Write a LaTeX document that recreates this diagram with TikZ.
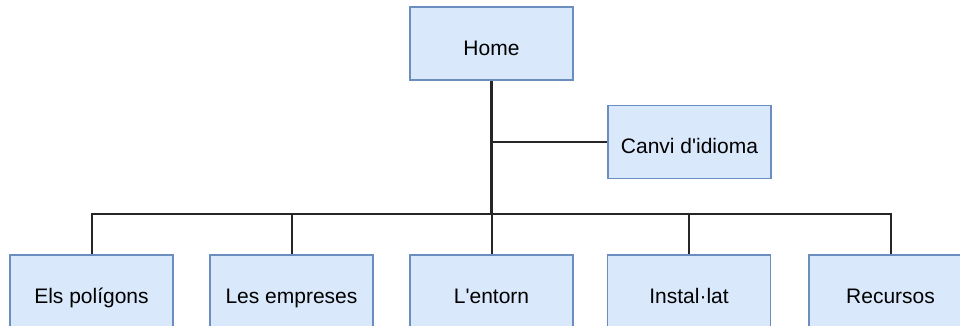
\documentclass[tikz,border=0pt]{standalone}
\usepackage{fontspec}
\setmainfont{Liberation Sans}
\definecolor{boxfill}{HTML}{DAE8FC}
\definecolor{boxline}{HTML}{6C8EBF}
\tikzset{
  pagebox/.style={draw=boxline, fill=boxfill, line width=1.5pt, minimum width=163pt,
    minimum height=73pt, inner sep=0pt, text height=23pt, text depth=0pt,
    font=\fontsize{21}{25}\selectfont},
  link/.style={line width=2pt, black!85}
}
\begin{document}
\begin{tikzpicture}[x=1pt, y=-1pt]
    \useasboundingbox (0, 0) rectangle (960, 325);
    \node[pagebox] (home) at (491.5, 43.5) {Home};
    \node[pagebox] (idioma) at (689.5, 142) {Canvi d\textquotesingle idioma};
    \node[pagebox] (poligons) at (91.5, 291.5) {Els polígons};
    \node[pagebox] (empreses) at (291.5, 291.5) {Les empreses};
    \node[pagebox] (entorn) at (491.5, 291.5) {L\textquotesingle entorn};
    \node[pagebox] (installat) at (689, 291.5) {Instal·lat};
    \node[pagebox] (recursos) at (890.5, 291.5) {Recursos};
    \coordinate (bus) at (491.5, 214);
    \draw[link] (home.south) |- (idioma.west);
    \draw[link, line width=2.4pt] (home.south) -- (bus);
    \draw[link] (bus) -| (poligons.north);
    \draw[link] (bus) -| (empreses.north);
    \draw[link] (bus) -- (entorn.north);
    \draw[link] (bus) -| (installat.north);
    \draw[link] (bus) -| (recursos.north);
\end{tikzpicture}
\end{document}
